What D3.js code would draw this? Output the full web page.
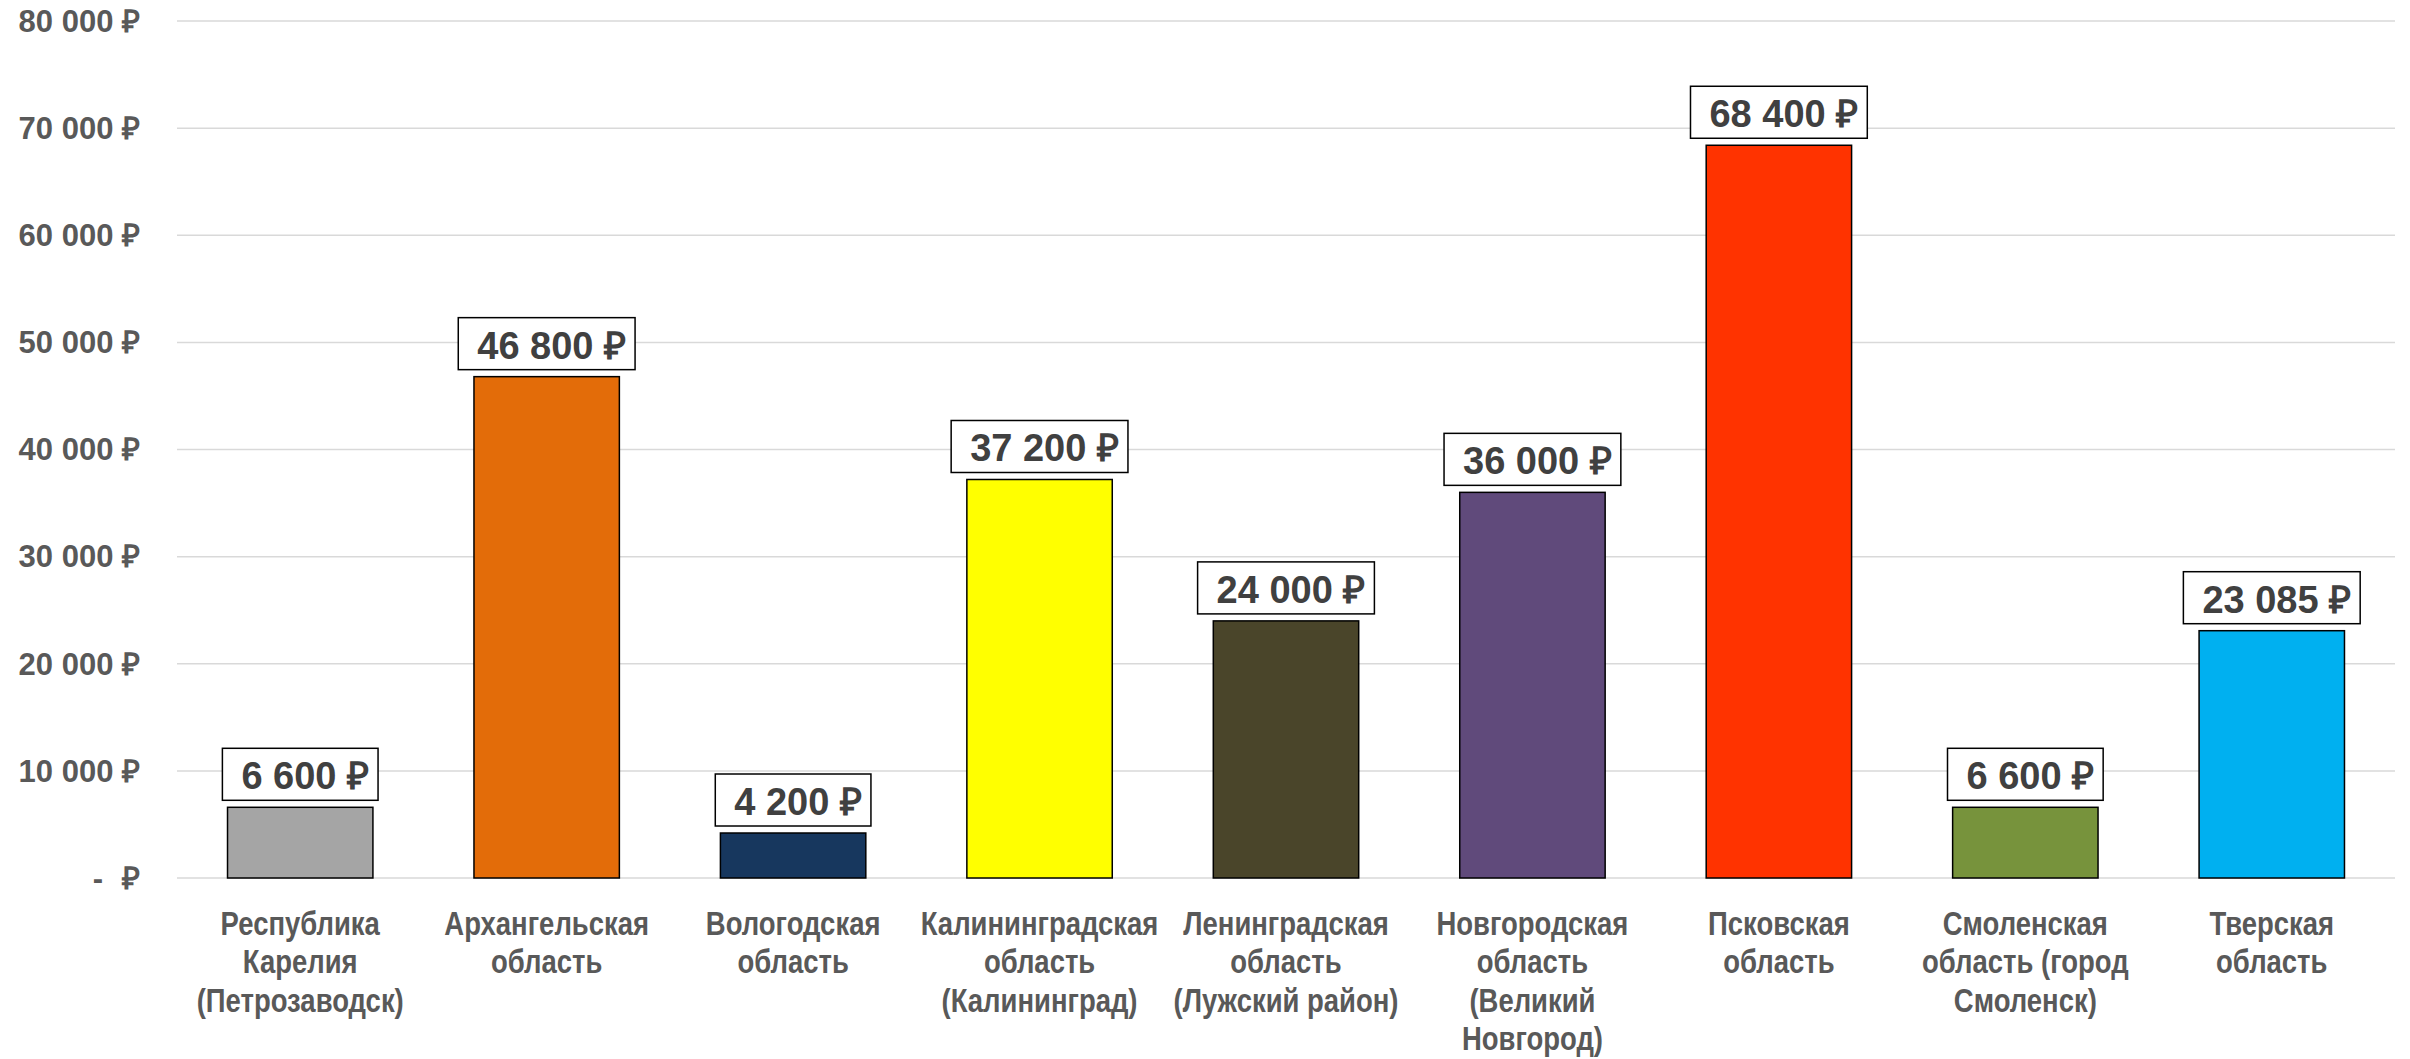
<!DOCTYPE html>
<html><head><meta charset="utf-8">
<script src="https://cdn.jsdelivr.net/npm/d3@7"></script>
<style>
html,body{margin:0;padding:0;background:#fff;}
svg{display:block;}
</style></head>
<body>
<svg id="chart" width="2410" height="1059"></svg>
<script>
const categories = [
  ["Республика","Карелия","(Петрозаводск)"],
  ["Архангельская","область"],
  ["Вологодская","область"],
  ["Калининградская","область","(Калининград)"],
  ["Ленинградская","область","(Лужский район)"],
  ["Новгородская","область","(Великий","Новгород)"],
  ["Псковская","область"],
  ["Смоленская","область (город","Смоленск)"],
  ["Тверская","область"]
];
const values = [6600, 46800, 4200, 37200, 24000, 36000, 68400, 6600, 23085];
const colors = ["#A5A5A5","#E36C09","#17375E","#FFFF00","#4A452A","#604A7B","#FF3300","#77933C","#00B0F0"];
const yTicks = [0,10000,20000,30000,40000,50000,60000,70000,80000];

(function(){
const svg = d3.select("#chart");
const mLeft = 177, mRight = 2395, mTop = 21, mBottom = 878;

const fmt = v => d3.format(",")(v).replace(/,/g, " ");

const x = d3.scaleBand().domain(d3.range(values.length)).range([mLeft, mRight]).paddingInner(0.41).paddingOuter(0.205);
const y = d3.scaleLinear().domain([0, 80000]).range([mBottom, mTop]);

svg.append("g").selectAll("line").data(yTicks).join("line")
  .attr("x1", mLeft).attr("x2", mRight)
  .attr("y1", d => y(d)).attr("y2", d => y(d))
  .attr("stroke", "#D9D9D9").attr("stroke-width", 1.5);

const yl = svg.append("g").attr("font-family", "'Liberation Sans', Arial, sans-serif")
  .attr("font-weight", "bold").attr("font-size", 31).attr("fill", "#595959");
yTicks.forEach(t => {
  if (t === 0) {
    yl.append("text").attr("x", 98).attr("y", y(t)).attr("dy", "0.35em").attr("text-anchor", "middle").text("-");
    yl.append("text").attr("x", 140).attr("y", y(t)).attr("dy", "0.35em").attr("text-anchor", "end").text("₽");
  } else {
    yl.append("text").attr("x", 140).attr("y", y(t)).attr("dy", "0.35em").attr("text-anchor", "end").text(fmt(t) + " ₽");
  }
});

svg.append("g").selectAll("rect").data(values).join("rect")
  .attr("x", (d, i) => x(i)).attr("width", x.bandwidth())
  .attr("y", d => y(d)).attr("height", d => mBottom - y(d))
  .attr("fill", (d, i) => colors[i])
  .attr("stroke", "#000").attr("stroke-width", 1.5);

const lg = svg.append("g");
values.forEach((v, i) => {
  const cx = x(i) + x.bandwidth() / 2;
  const g = lg.append("g");
  const t = g.append("text")
    .attr("font-family", "'Liberation Sans', Arial, sans-serif")
    .attr("font-weight", "bold").attr("font-size", 38).attr("fill", "#404040")
    .text(fmt(v) + " ₽");
  const w = t.node().getComputedTextLength();
  const bw = w + 28, bh = 52;
  const bx = cx - bw / 2, byb = y(v) - 7;
  g.insert("rect", "text").attr("x", bx).attr("y", byb - bh).attr("width", bw).attr("height", bh)
    .attr("fill", "#fff").attr("stroke", "#000").attr("stroke-width", 1.5);
  t.attr("x", bx + 19).attr("y", byb - 11);
});

const cg = svg.append("g").attr("font-family", "'Liberation Sans', Arial, sans-serif")
  .attr("font-weight", "bold").attr("font-size", 32.5).attr("fill", "#595959").attr("text-anchor", "middle");
categories.forEach((lines, i) => {
  const cx = x(i) + x.bandwidth() / 2;
  const gg = cg.append("g").attr("transform", `translate(${cx},${mBottom + 57}) scale(0.845,1)`);
  const t = gg.append("text").attr("x", 0).attr("y", 0);
  lines.forEach((l, j) => t.append("tspan").attr("x", 0).attr("dy", j === 0 ? 0 : 38.5).text(l));
});
})();
</script>
</body></html>
